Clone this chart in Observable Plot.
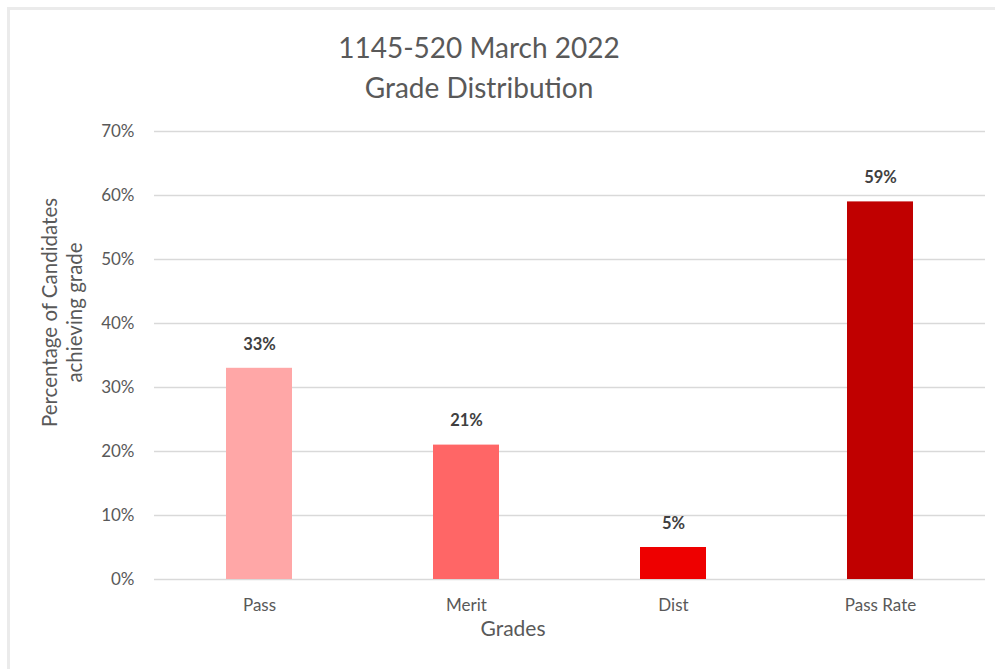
<!DOCTYPE html>
<html>
<head>
<meta charset="utf-8">
<script src="https://cdn.jsdelivr.net/npm/d3@7"></script>
<script src="https://cdn.jsdelivr.net/npm/@observablehq/plot@0.6"></script>
<style>
  html, body { margin: 0; padding: 0; background: #fff; }
  #wrap { position: relative; width: 995px; height: 669px; overflow: hidden; font-family: Lato, "Open Sans", sans-serif; }
  #frame { position: absolute; left: 7px; top: 7px; width: 1000px; height: 700px; border-top: 3px solid #ebebeb; border-left: 3px solid #ebebeb; box-sizing: border-box; }
  #title { position: absolute; left: 0; top: 27px; width: 958px; text-align: center; color: #595959; font-size: 28px; line-height: 40px; }
  #chart { position: absolute; left: 0; top: 0; }
</style>
</head>
<body>
<div id="wrap">
  <div id="frame"></div>
  <div id="chart"></div>
  <div id="title">1145-520 March 2022<br>Grade Distribution</div>
</div>
<script>
const grades = ["Pass", "Merit", "Dist", "Pass Rate"];
const values = [0.33, 0.21, 0.05, 0.59];
const colors = ["#FFA7A7", "#FF6666", "#EE0000", "#C00000"];
const yTicks = [0, 0.1, 0.2, 0.3, 0.4, 0.5, 0.6, 0.7];
const yLabel = "Percentage of Candidates\nachieving grade";
const xLabel = "Grades";

const data = grades.map((g, i) => ({grade: g, value: values[i], color: colors[i]}));
const pct = d3.format(".0%");

const chart = Plot.plot({
  width: 995,
  height: 669,
  marginTop: 131,
  marginBottom: 90,
  marginLeft: 154,
  marginRight: 10,
  style: {fontFamily: "Lato, 'Open Sans', sans-serif", background: "transparent", color: "#595959"},
  x: {domain: grades, paddingInner: 0.68, paddingOuter: 0.34, align: 0.5, label: null},
  y: {domain: [0, 0.7], label: null},
  marks: [
    Plot.gridY(yTicks, {stroke: "#d9d9d9", strokeOpacity: 1, strokeWidth: 1.5}),
    Plot.barY(data, {x: "grade", y: "value", fill: "color"}),
    Plot.axisY(yTicks, {tickSize: 0, tickPadding: 20, tickFormat: pct, fontSize: 17, fill: "#595959", label: null}),
    Plot.axisX(grades, {tickSize: 0, tickPadding: 19, fontSize: 17, fill: "#595959", label: null}),
    Plot.text(data, {x: "grade", y: "value", text: d => pct(d.value), dy: -24, fontWeight: "bold", fontSize: 16.5, fill: "#404040"}),
    Plot.text([yLabel], {frameAnchor: "left", text: d => d, rotate: -90, dx: -93, dy: -43, fontSize: 20.5, fill: "#595959", lineHeight: 1.22, textAnchor: "middle"}),
    Plot.text([xLabel], {frameAnchor: "bottom", text: d => d, dx: -57, dy: 56, fontSize: 21, fill: "#595959"})
  ]
});
document.getElementById("chart").appendChild(chart);
</script>
</body>
</html>
